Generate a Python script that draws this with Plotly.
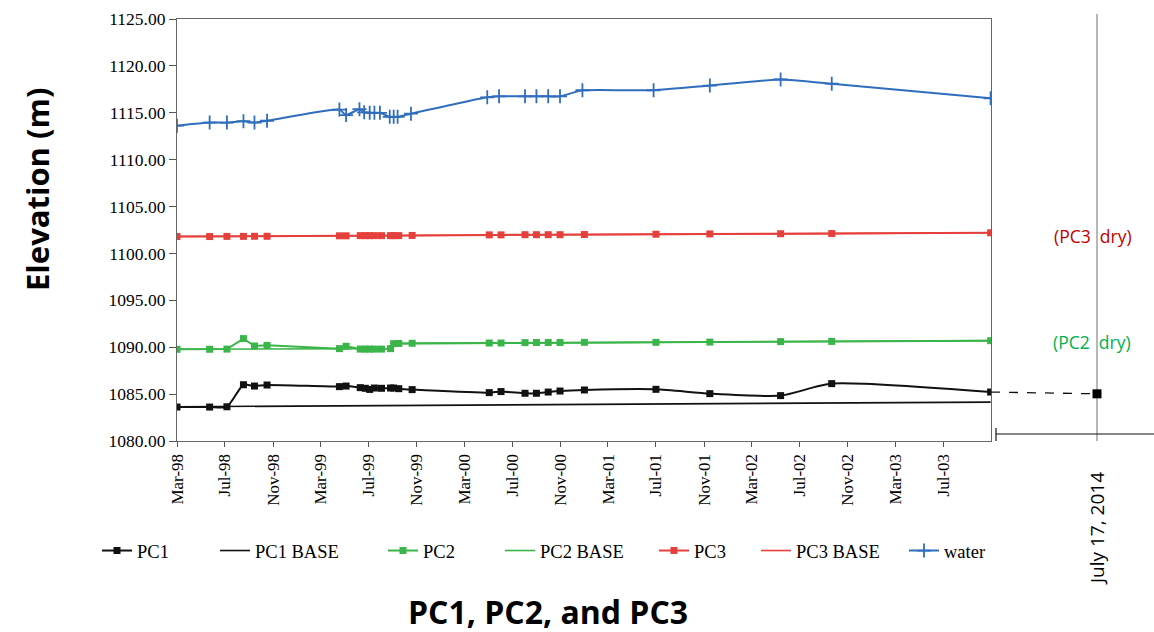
import plotly.graph_objects as go

# ---------------- data ----------------
pc_dates = ["1998-03-01", "1998-05-23", "1998-07-06", "1998-08-17", "1998-09-14", "1998-10-16",
            "1999-04-18", "1999-05-05", "1999-06-10", "1999-06-23", "1999-07-04", "1999-07-16",
            "1999-08-03", "1999-08-26", "1999-09-03", "1999-09-16", "1999-10-20",
            "2000-05-03", "2000-06-02", "2000-08-02", "2000-08-31", "2000-09-30", "2000-10-30",
            "2000-12-31", "2001-07-01", "2001-11-15", "2002-05-14", "2002-09-21", "2003-10-30"]

pc1 = [1083.62, 1083.62, 1083.65, 1086.00, 1085.86, 1085.97,
       1085.80, 1085.86, 1085.69, 1085.62, 1085.50, 1085.65,
       1085.62, 1085.65, 1085.65, 1085.58, 1085.48,
       1085.16, 1085.27, 1085.09, 1085.09, 1085.22, 1085.33,
       1085.44, 1085.51, 1085.05, 1084.84, 1086.12, 1085.22]

pc2 = [1089.78, 1089.78, 1089.80, 1090.92, 1090.13, 1090.20,
       1089.85, 1090.10, 1089.80, 1089.80, 1089.80, 1089.80,
       1089.80, 1089.85, 1090.38, 1090.40, 1090.42,
       1090.45, 1090.45, 1090.49, 1090.50, 1090.50, 1090.50,
       1090.52, 1090.52, 1090.55, 1090.60, 1090.62, 1090.70]

pc3 = [1101.80, 1101.80, 1101.82, 1101.82, 1101.83, 1101.83,
       1101.88, 1101.88, 1101.90, 1101.90, 1101.90, 1101.90,
       1101.90, 1101.90, 1101.90, 1101.90, 1101.92,
       1101.98, 1101.98, 1102.00, 1102.00, 1102.00, 1102.00,
       1102.02, 1102.05, 1102.08, 1102.10, 1102.12, 1102.20]

pc1_base_dates = ["1998-03-01", "2003-10-30"]
pc1_base = [1083.65, 1084.15]

pc2_base_dates = ["1998-03-01", "1998-07-06", "1999-04-18", "1999-08-26", "1999-09-03", "2003-10-30"]
pc2_base = [1089.78, 1089.80, 1089.85, 1089.85, 1090.38, 1090.70]

pc3_base_dates = ["1998-03-01", "2003-10-30"]
pc3_base = [1101.80, 1102.20]

water_dates = ["1998-03-01", "1998-05-23", "1998-07-06", "1998-08-17", "1998-09-14", "1998-10-16",
               "1999-04-18", "1999-05-05", "1999-06-08", "1999-06-20", "1999-07-04", "1999-07-16",
               "1999-07-30", "1999-08-24", "1999-09-03", "1999-09-13", "1999-10-17",
               "2000-04-28", "2000-05-28", "2000-08-02", "2000-08-31", "2000-09-30", "2000-10-30",
               "2000-12-26", "2001-06-25", "2001-11-15", "2002-05-14", "2002-09-21", "2003-10-30"]
water = [1113.62, 1113.95, 1113.95, 1114.10, 1113.95, 1114.15,
         1115.34, 1114.75, 1115.38, 1115.05, 1115.00, 1115.00,
         1115.00, 1114.57, 1114.57, 1114.57, 1114.90,
         1116.65, 1116.75, 1116.75, 1116.75, 1116.75, 1116.75,
         1117.40, 1117.40, 1117.90, 1118.55, 1118.10, 1116.55]

dry_labels = ["(PC3  dry)", "(PC2  dry)"]
survey_label = "July 17, 2014"
survey_value = 1085.03
y_title = "Elevation (m)"
x_title = "PC1, PC2, and PC3"

# ---------------- styles ----------------
BLACK = "#111111"
GREEN = "#3bb54a"
RED = "#e5403c"
BLUE = "#2f6dbd"
SERIF = "Liberation Serif"
SANS = "Open Sans"

# plot area in pixels
L, R, T, B = 177, 991, 19, 441
W, H = 1154, 632


def px(xp):
    return (xp - L) / (R - L)


def py(yp):
    return (B - yp) / (B - T)


fig = go.Figure()

series = [
    ("PC1", pc_dates, pc1, BLACK, True, "spline", "legend"),
    ("PC1 BASE", pc1_base_dates, pc1_base, BLACK, False, "linear", "legend2"),
    ("PC2", pc_dates, pc2, GREEN, True, "linear", "legend3"),
    ("PC2 BASE", pc2_base_dates, pc2_base, GREEN, False, "linear", "legend4"),
    ("PC3", pc_dates, pc3, RED, True, "linear", "legend5"),
    ("PC3 BASE", pc3_base_dates, pc3_base, RED, False, "linear", "legend6"),
]
for name, xs, ys, col, mk, shape, lg in series:
    fig.add_trace(go.Scatter(
        x=xs, y=ys, name=name, legend=lg,
        mode="lines+markers" if mk else "lines",
        line=dict(color=col, width=2 if mk else 1.6, shape=shape, smoothing=0.6),
        marker=dict(symbol="square", size=7, color=col) if mk else None,
    ))

fig.add_trace(go.Scatter(
    x=water_dates, y=water, name="water", legend="legend7",
    mode="lines+markers",
    line=dict(color=BLUE, width=2, shape="spline", smoothing=0.5),
    marker=dict(symbol="cross-thin", size=10, line=dict(color=BLUE, width=1.8)),
))

# legends, one per entry so each sits where the original does
legend_line_starts = [103, 221, 389, 506, 660, 762, 910]
legend_keys = ["legend", "legend2", "legend3", "legend4", "legend5", "legend6", "legend7"]
leg_layout = {}
for key, xs in zip(legend_keys, legend_line_starts):
    leg_layout[key] = dict(
        x=px(xs - 6), y=py(551), xanchor="left", yanchor="middle",
        orientation="h", bgcolor="rgba(0,0,0,0)",
        font=dict(family=SERIF, size=18.5, color="black"),
    )

fig.update_layout(
    width=W, height=H,
    margin=dict(l=L, r=W - R, t=T, b=H - B, autoexpand=False),
    plot_bgcolor="white", paper_bgcolor="white",
    showlegend=True,
    **leg_layout,
    xaxis=dict(
        type="date", range=["1998-03-01", "2003-10-31"],
        tick0="1998-03-01", dtick="M4", tickformat="%b-%y", tickangle=-90,
        ticks="outside", ticklen=5, tickcolor="#555",
        showline=True, mirror=True, linecolor="#666", linewidth=1.2,
        showgrid=False, zeroline=False, automargin=False,
        tickfont=dict(family=SERIF, size=17, color="black"),
    ),
    yaxis=dict(
        range=[1080, 1125], dtick=5, tickformat=".2f",
        ticks="outside", ticklen=7, tickcolor="#555",
        showline=True, mirror=True, linecolor="#666", linewidth=1.2,
        showgrid=False, zeroline=False, automargin=False,
        tickfont=dict(family=SERIF, size=17.5, color="black"),
    ),
)

# right-hand annotations
vx = px(1097)
fig.add_shape(type="line", xref="paper", yref="paper", x0=vx, x1=vx, y0=py(441), y1=py(14),
              line=dict(color="#888", width=1.2))
fig.add_shape(type="line", xref="paper", yref="paper", x0=px(996), x1=px(1154), y0=py(434), y1=py(434),
              line=dict(color="#111", width=1.2))
fig.add_shape(type="line", xref="paper", yref="paper", x0=px(996), x1=px(996), y0=py(428), y1=py(441),
              line=dict(color="#111", width=1.2))
fig.add_shape(type="line", xref="paper", yref="y", x0=1.0, x1=vx, y0=pc1[-1], y1=survey_value,
              line=dict(color="#111", width=1.3, dash="dash"))
fig.add_shape(type="rect", xref="paper", yref="y", xsizemode="pixel", ysizemode="pixel",
              xanchor=vx, yanchor=survey_value, x0=-4.5, x1=4.5, y0=-4.5, y1=4.5,
              fillcolor="black", line=dict(color="black", width=0))

fig.add_annotation(text=dry_labels[0], xref="paper", yref="paper", x=px(1093), y=py(236),
                   xanchor="center", yanchor="middle",
                   showarrow=False, font=dict(family=SANS, size=17.5, color="#c00000"))
fig.add_annotation(text=dry_labels[1], xref="paper", yref="paper", x=px(1092), y=py(342),
                   xanchor="center", yanchor="middle",
                   showarrow=False, font=dict(family=SANS, size=17.5, color="#00b050"))
fig.add_annotation(text=survey_label, xref="paper", yref="paper", x=px(1097), y=py(529),
                   xanchor="center", yanchor="middle",
                   textangle=-90, showarrow=False, font=dict(family=SANS, size=19, color="black"))

# titles
fig.add_annotation(text="<b>" + y_title + "</b>", xref="paper", yref="paper", x=px(37), y=py(190),
                   xanchor="center", yanchor="middle",
                   textangle=-90, showarrow=False, font=dict(family=SANS, size=31, color="black"))
fig.add_annotation(text="<b>" + x_title + "</b>", xref="paper", yref="paper", x=px(548), y=py(611),
                   xanchor="center", yanchor="middle",
                   showarrow=False, font=dict(family=SANS, size=32, color="black"))

fig.write_html("out.html", config={"displayModeBar": False},
               post_script="document.body.style.margin='0px';")
